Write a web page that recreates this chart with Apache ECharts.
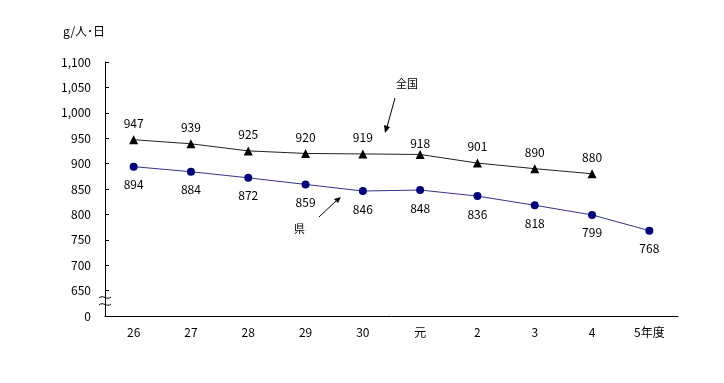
<!DOCTYPE html>
<html><head><meta charset="utf-8">
<script src="https://cdn.jsdelivr.net/npm/echarts@6/dist/echarts.min.js"></script>
<style>html,body{margin:0;padding:0;background:#fff}#c{width:724px;height:383px}</style>
</head><body><div id="c"></div>
<script>
const categories = ['26','27','28','29','30','元','2','3','4','5年度'];
const national = [947, 939, 925, 920, 919, 918, 901, 890, 880, null];
const prefecture = [894, 884, 872, 859, 846, 848, 836, 818, 799, 768];
const yTicks = [600, 650, 700, 750, 800, 850, 900, 950, 1000, 1050, 1100];
const unitLabel = 'g/人･日';
const FONT = '"Noto Sans CJK JP", sans-serif';

const nationalData = national.map((v, i) =>
  categories[i] === '元' ? { value: v, label: { distance: 1 } } : v);

const chart = echarts.init(document.getElementById('c'));
chart.setOption({
  animation: false,
  backgroundColor: '#fff',
  textStyle: { fontFamily: FONT },
  grid: { left: 105, right: 46, top: 62, bottom: 67 },
  xAxis: {
    type: 'category', data: categories, boundaryGap: true,
    axisLine: { lineStyle: { color: '#000', width: 1 } },
    axisTick: { show: false },
    axisLabel: { color: '#000', fontSize: 12, margin: 10, fontFamily: FONT }
  },
  yAxis: {
    type: 'value', min: yTicks[0], max: yTicks[yTicks.length - 1], interval: 50,
    axisLine: { show: true, lineStyle: { color: '#000', width: 1 } },
    axisTick: { show: true, inside: true, length: 4, lineStyle: { color: '#000' } },
    splitLine: { show: false },
    axisLabel: {
      color: '#000', fontSize: 12, margin: 14, fontFamily: FONT,
      formatter: v => v === yTicks[0] ? '0' : v.toLocaleString('en-US')
    }
  },
  graphic: [
    { type: 'text', left: 63, top: 25, style: { text: unitLabel, font: '12px ' + FONT, fill: '#000' } },
    { type: 'text', left: 396, top: 78, style: { text: '全国', font: '11px ' + FONT, fill: '#000' } },
    { type: 'text', left: 294, top: 223, style: { text: '県', font: '11px ' + FONT, fill: '#000' } },
    { type: 'line', shape: { x1: 395, y1: 98, x2: 387, y2: 127 }, style: { stroke: '#000', lineWidth: 1 } },
    { type: 'polygon', shape: { points: [[385, 133], [384, 125], [390, 127]] }, style: { fill: '#000' } },
    { type: 'line', shape: { x1: 319, y1: 217, x2: 336, y2: 201 }, style: { stroke: '#000', lineWidth: 1 } },
    { type: 'polygon', shape: { points: [[341, 197], [334, 199], [338, 203]] }, style: { fill: '#000' } },
    { type: 'rect', shape: { x: 100, y: 297, width: 10, height: 8 }, style: { fill: '#fff' } },
    { type: 'bezierCurve', shape: { x1: 99, y1: 298, x2: 111, y2: 297, cpx1: 103, cpy1: 294, cpx2: 107, cpy2: 301 }, style: { stroke: '#000', lineWidth: 1, fill: null } },
    { type: 'bezierCurve', shape: { x1: 99, y1: 305, x2: 111, y2: 304, cpx1: 103, cpy1: 301, cpx2: 107, cpy2: 308 }, style: { stroke: '#000', lineWidth: 1, fill: null } }
  ],
  series: [
    {
      name: '全国', type: 'line', data: nationalData,
      symbol: 'triangle', symbolSize: 9,
      itemStyle: { color: '#000' },
      lineStyle: { color: '#222', width: 1 },
      label: { show: true, position: 'top', distance: 6, color: '#000', fontSize: 12, fontFamily: FONT }
    },
    {
      name: '県', type: 'line', data: prefecture,
      symbol: 'circle', symbolSize: 8,
      itemStyle: { color: '#000080' },
      lineStyle: { color: '#33338a', width: 1 },
      label: { show: true, position: 'bottom', distance: 8, color: '#000', fontSize: 12, fontFamily: FONT }
    }
  ]
});
</script></body></html>
